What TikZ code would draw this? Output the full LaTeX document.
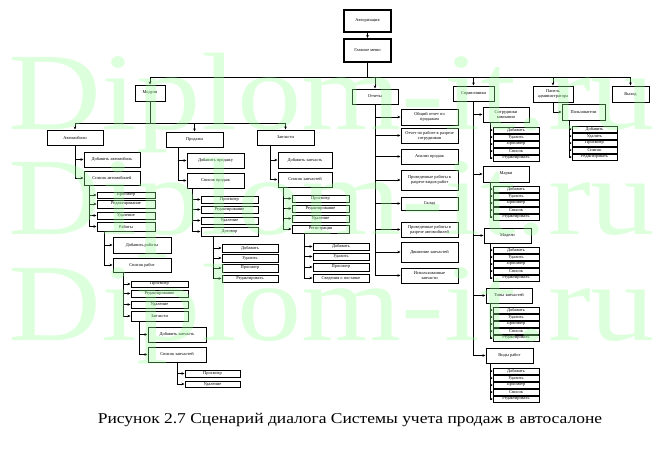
\documentclass[tikz,border=0pt]{standalone}
\usepackage{fontspec}
\setmainfont{Liberation Serif}
\usetikzlibrary{arrows.meta,calc}
\definecolor{wm}{RGB}{150,255,150}
\newcommand{\bx}[7][]{\node[box,#1,minimum width={((#5)-(#3))*1pt},minimum height={((#6)-(#4))*1pt}] (#2) at ({((#3)+(#5))/2},{((#4)+(#6))/2}) {#7};}
% #1 parent, #2 trunk x, #3 child name
\newcommand{\kid}[3]{\draw[arr] (#2,0 |- #1.south) |- (#3.west);}
% five standard children: #1 parent, #2 x1, #3 x2, #4 y0
\newcommand{\fivekids}[4]{%
  \foreach \k/\d/\t in {1/0/Добавить,2/7/Удалить,3/14/Просмотр,4/21/Список,5/28/Редактировать}{%
    \bx{#1k\k}{#2}{#4+\d}{#3}{#4+\d+6}{\t}
    \draw[sarr] (#2-3,0 |- #1.south) |- (#1k\k.west);
  }}
\begin{document}
\begin{tikzpicture}[x=1pt,y=-1pt,
  box/.style={draw,line width=1pt,inner sep=0pt,align=center,fill=white,font=\fontsize{4.4}{4.9}\selectfont},
  tbox/.style={line width=2pt},
  arr/.style={-{Stealth[length=3pt,width=2.6pt]},line width=0.9pt},
  sarr/.style={-{Stealth[length=1.6pt,width=2pt]},line width=0.9pt},
  ln/.style={line width=0.9pt}]
\fill[white] (0,0) rectangle (665,450);
\useasboundingbox (0,0) rectangle (665,450);

% top
\bx[tbox]{auth}{344}{10}{391}{32}{Авторизация}
\bx[tbox]{menu}{344}{39}{391}{62}{Главное меню}
\draw[arr] (auth.south) -- (menu.north);

% level 1
\bx{mod}{135}{85}{165}{101}{Модули}
\bx{otch}{352}{89}{398}{104}{Отчеты}
\bx{spr}{453}{86}{494}{101}{Справочники}
\bx{adm}{533}{86}{573}{102}{Панель\\администратора}
\bx{exit}{612}{86}{649}{102}{Выход}
\draw[ln] (menu.south) -- (menu.south |- 0,77);
\draw[ln] (mod.north |- 0,77) -- (exit.north |- 0,77);
\foreach \n in {mod,otch,spr,adm,exit}{\draw[arr] (\n.north |- 0,77) -- (\n.north);}

% modules
\bx{avto}{47}{130}{103}{145}{Автомобили}
\bx{prod}{166}{132}{223}{147}{Продажи}
\bx{zap}{257}{130}{314}{145}{Запчасти}
\draw[ln] (mod.south) -- (mod.south |- 0,123);
\draw[ln] (avto.north |- 0,123) -- (zap.north |- 0,123);
\foreach \n in {avto,prod,zap}{\draw[arr] (\n.north |- 0,123) -- (\n.north);}

% Автомобили
\bx{avAdd}{84}{152}{140}{167}{Добавить автомобиль}
\bx{avList}{84}{171}{140}{185}{Список автомобилей}
\kid{avto}{75}{avAdd}\kid{avto}{75}{avList}
\bx{a1}{97}{192}{155}{198}{Просмотр}
\bx{a2}{97}{200}{155}{208}{Редактирование}
\bx{a3}{97}{212}{155}{219}{Удаление}
\bx{a4}{97}{222}{155}{231}{Работы}
\foreach \c in {a1,a2,a3,a4}{\kid{avList}{89}{\c}}
\bx{rAdd}{113}{237}{171}{253}{Добавить работы}
\bx{rList}{113}{258}{171}{272}{Список работ}
\kid{a4}{104}{rAdd}\kid{a4}{104}{rList}
\bx{r1}{131}{281}{188}{287}{Просмотр}
\bx{r2}{131}{290}{188}{297}{Редактирование}
\bx{r3}{131}{301}{188}{308}{Удаление}
\bx{r4}{131}{311}{188}{321}{Запчасти}
\foreach \c in {r1,r2,r3,r4}{\kid{rList}{123}{\c}}
\bx{zAdd}{148}{327}{206}{342}{Добавить запчасть}
\bx{zList}{148}{347}{206}{362}{Список запчастей}
\kid{r4}{139}{zAdd}\kid{r4}{139}{zList}
\bx{z1}{185}{370}{240}{377}{Просмотр}
\bx{z2}{185}{381}{240}{387}{Удаление}
\kid{zList}{177}{z1}\kid{zList}{177}{z2}

% Продажи
\bx{pAdd}{187}{153}{244}{168}{Добавить продажу}
\bx{pList}{187}{173}{244}{188}{Список продаж}
\kid{prod}{178}{pAdd}\kid{prod}{178}{pList}
\bx{p1}{201}{196}{258}{203}{Просмотр}
\bx{p2}{201}{206}{258}{213}{Редактирование}
\bx{p3}{201}{217}{258}{224}{Удаление}
\bx{p4}{201}{227}{258}{236}{Договор}
\foreach \c in {p1,p2,p3,p4}{\kid{pList}{192}{\c}}
\bx{d1}{222}{244}{278}{252}{Добавить}
\bx{d2}{222}{254}{278}{262}{Удалить}
\bx{d3}{222}{264}{278}{272}{Просмотр}
\bx{d4}{222}{275}{278}{282}{Редактировать}
\foreach \c in {d1,d2,d3,d4}{\kid{p4}{213}{\c}}

% Запчасти
\bx{qAdd}{278}{152}{332}{168}{Добавить запчасть}
\bx{qList}{278}{172}{332}{187}{Список запчастей}
\kid{zap}{270}{qAdd}\kid{zap}{270}{qList}
\bx{q1}{292}{195}{349}{202}{Просмотр}
\bx{q2}{292}{205}{349}{212}{Редактирование}
\bx{q3}{292}{215}{349}{222}{Удаление}
\bx{q4}{292}{225}{349}{233}{Регистрация}
\foreach \c in {q1,q2,q3,q4}{\kid{qList}{283}{\c}}
\bx{g1}{313}{243}{369}{250}{Добавить}
\bx{g2}{313}{253}{369}{260}{Удалить}
\bx{g3}{313}{263}{369}{271}{Просмотр}
\bx{g4}{313}{274}{369}{282}{Сведения о поставке}
\foreach \c in {g1,g2,g3,g4}{\kid{q4}{304}{\c}}

% Отчеты
\bx{o1}{401}{109}{458}{125}{Общий отчет по\\продажам}
\bx{o2}{401}{128}{458}{143}{Отчет по работе в разрезе\\сотрудников}
\bx{o3}{401}{149}{458}{164}{Анализ продаж}
\bx{o4}{401}{170}{458}{190}{Проведенные работы в\\разрезе видов работ}
\bx{o5}{401}{197}{458}{210}{Склад}
\bx{o6}{401}{222}{458}{237}{Проведенные работы в\\разрезе автомобилей}
\bx{o7}{401}{242}{458}{262}{Движение запчастей}
\bx{o8}{401}{268}{458}{283}{Использованные\\запчасти}
\foreach \c in {o1,o2,o3,o4,o5,o6,o7,o8}{\draw[arr] (otch.south) |- (\c.west);}

% Справочники
\bx{sa}{483}{107}{529}{122}{Сотрудники\\компании}
\bx{sb}{483}{166}{529}{182}{Марки}
\bx{sc}{484}{228}{531}{243}{Модели}
\bx{sd}{486}{288}{532}{303}{Типы запчастей}
\bx{se}{486}{348}{533}{363}{Виды работ}
\foreach \c in {sa,sb,sc,sd,se}{\draw[arr] (spr.south) |- (\c.west);}
\fivekids{sa}{493}{539}{127}
\fivekids{sb}{493}{539}{186}
\fivekids{sc}{493}{539}{247}
\fivekids{sd}{493}{539}{307}
\fivekids{se}{493}{539}{368}

% Панель администратора
\bx{users}{562}{104}{605}{120}{Пользователи}
\draw[arr] (adm.south) |- (users.west);
\fivekids{users}{572}{617}{126}

% caption
\node[font=\fontsize{15}{17}\selectfont,anchor=base,inner sep=0pt,xscale=1.165] (cap) at (350,423) {Рисунок 2.7 Сценарий диалога Системы учета продаж в автосалоне};

% watermark
\foreach \yy in {129,234,340}{
  \node[font=\fontsize{110}{110}\selectfont,text=wm,text opacity=0.33,anchor=base west,inner sep=0pt,xscale=1.17] at (8,\yy) {Diplom-it.ru};}
\end{tikzpicture}
\end{document}
